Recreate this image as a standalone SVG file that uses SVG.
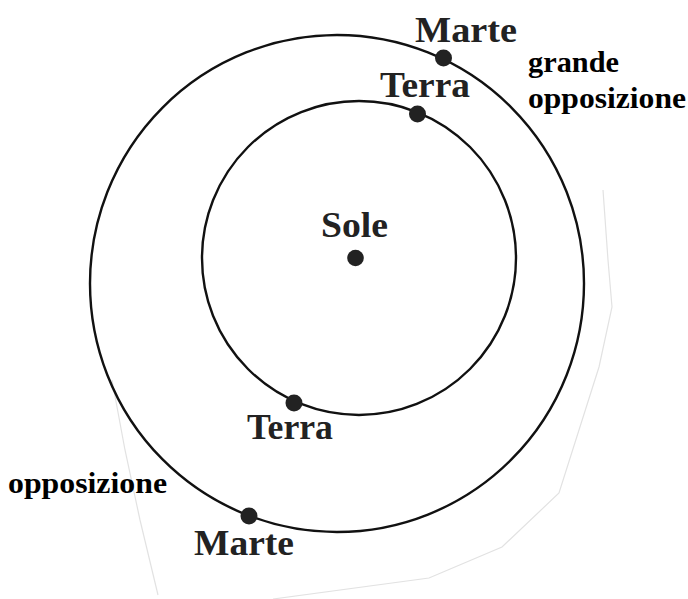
<svg xmlns="http://www.w3.org/2000/svg" width="688" height="599" viewBox="0 0 688 599">
<style>
.orbit{fill:none;stroke:#111;stroke-width:2.4}
.dot{fill:#222}
.lbl{font-family:"Liberation Serif","Times New Roman",serif;font-weight:bold;font-size:35px;fill:#222}
.cap{font-family:"Liberation Serif","Times New Roman",serif;font-weight:bold;font-size:30px;fill:#000}
.edge{fill:none;stroke:#e2e2e2;stroke-width:1.2}
</style>
<rect width="688" height="599" fill="#fff"/>
<g id="scan-edges">
<polyline class="edge" points="603,190 608,260 612,307 599,367 559,493 502,547 429,578 273,599"/>
<polyline class="edge" points="112,380 125,450 140,520 158,595"/>
</g>
<g id="orbit-mars"><ellipse class="orbit" cx="337" cy="283.5" rx="247" ry="248.5"/></g>
<g id="orbit-earth"><circle class="orbit" cx="359" cy="258" r="157"/></g>
<g id="sole">
<circle class="dot" cx="355.5" cy="258" r="8.3"/>
<text class="lbl" x="321" y="237" textLength="67" lengthAdjust="spacingAndGlyphs">Sole</text>
</g>
<g id="marte-top">
<circle class="dot" cx="443.5" cy="58" r="8.5"/>
<text class="lbl" x="415" y="42" textLength="102" lengthAdjust="spacingAndGlyphs">Marte</text>
</g>
<g id="terra-top">
<circle class="dot" cx="417.5" cy="114" r="8.5"/>
<text class="lbl" x="380" y="97" textLength="90" lengthAdjust="spacingAndGlyphs">Terra</text>
</g>
<g id="terra-bottom">
<circle class="dot" cx="294" cy="403" r="8.5"/>
<text class="lbl" x="247" y="439" textLength="86" lengthAdjust="spacingAndGlyphs">Terra</text>
</g>
<g id="marte-bottom">
<circle class="dot" cx="249" cy="516" r="8.5"/>
<text class="lbl" x="194" y="555" textLength="100" lengthAdjust="spacingAndGlyphs">Marte</text>
</g>
<g id="grande-opposizione">
<text class="cap" x="528" y="72" textLength="91" lengthAdjust="spacingAndGlyphs">grande</text>
<text class="cap" x="528" y="108" textLength="158" lengthAdjust="spacingAndGlyphs">opposizione</text>
</g>
<g id="opposizione">
<text class="cap" x="8" y="493" textLength="159" lengthAdjust="spacingAndGlyphs">opposizione</text>
</g>
<g id="connectors"/>
</svg>
